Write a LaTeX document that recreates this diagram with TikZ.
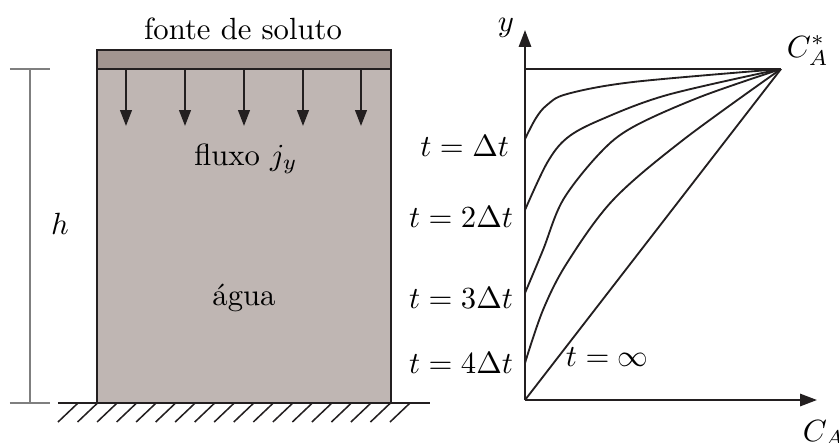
\documentclass[tikz,border=0pt]{standalone}
\usetikzlibrary{arrows.meta}
\definecolor{stripcol}{HTML}{A29590}
\definecolor{watercol}{HTML}{BFB6B3}
\definecolor{edgecol}{HTML}{231F20}
\definecolor{dimcol}{HTML}{7F7F7F}
\begin{document}
\begin{tikzpicture}[x=0.326pt,y=-0.326pt,line width=0.65pt,
  boxline/.style={draw=edgecol,line width=0.7pt},
  fluxarrow/.style={draw=edgecol,-{Triangle[length=5.2pt,width=3.8pt]}},
  axisarrow/.style={draw=edgecol,-{Triangle[length=5.5pt,width=4pt]}},
  curve/.style={draw=edgecol,line width=0.6pt},
  dimline/.style={draw=dimcol,line width=0.5pt},
  lbl/.style={inner sep=0pt}]
\useasboundingbox (0,0) rectangle (839,442);
% container
\fill[watercol] (97,69) rectangle (391,403);
\fill[stripcol] (97,50) rectangle (391,69);
\draw[boxline] (97,50) rectangle (391,403);
\draw[boxline] (97,69) -- (391,69);
% ground
\coordinate (gl) at (58,403);
\coordinate (gr) at (430,403);
\draw[boxline] (gl) -- (gr);
\foreach \i in {0,...,17} \draw[edgecol,line width=0.5pt] ({78+19.53*\i},403) -- ({58+19.53*\i},422);
% dimension h
\coordinate (ht1) at (10,69); \coordinate (ht2) at (50,69);
\coordinate (hb1) at (10,403); \coordinate (hb2) at (50,403);
\coordinate (hm1) at (30,69); \coordinate (hm2) at (30,403);
\draw[dimline] (ht1) -- (ht2);
\draw[dimline] (hb1) -- (hb2);
\draw[dimline] (hm1) -- (hm2);
\node[lbl,anchor=base] (h) at (60,234) {$h$};
% flux arrows
\foreach \x [count=\k] in {126,185,244,303,361} {
  \coordinate (fa\k) at (\x,69);
  \coordinate (fb\k) at (\x,126);
  \draw[fluxarrow] (fa\k) -- (fb\k);
}
\node[lbl] (fonte) at (243,29) {fonte de soluto};
\node[lbl,anchor=base] (fluxo) at (246,165) {fluxo $j_y$};
\node[lbl,anchor=base] (agua) at (244,305) {água};
% plot
\coordinate (O) at (525,400);
\coordinate (P) at (781,69);
\coordinate (T) at (525,69);
\coordinate (ytip) at (525,30);
\coordinate (xtip) at (817,400);
\draw[axisarrow] (O) -- (ytip);
\draw[axisarrow] (O) -- (xtip);
\draw[curve] (T) -- (P);
\draw[curve] (O) -- (P);
\draw[curve] plot[smooth,tension=0.55] coordinates {(525,139) (536,118) (547,105) (567,94) (633,82) (781,69)};
\draw[curve] plot[smooth,tension=0.55] coordinates {(525,210) (547,163) (567,138) (600,120) (667,95) (781,69)};
\draw[curve] plot[smooth,tension=0.55] coordinates {(525,293) (543,250) (563,200) (600,153) (633,127) (700,97) (781,69)};
\draw[curve] plot[smooth,tension=0.55] coordinates {(525,363) (543,310) (567,263) (613,200) (683,140) (781,69)};
\node[lbl,anchor=east] (l1) at (510,146) {$t=\Delta t$};
\node[lbl,anchor=east] (l2) at (514,217) {$t=2\Delta t$};
\node[lbl,anchor=east] (l3) at (514,298) {$t=3\Delta t$};
\node[lbl,anchor=east] (l4) at (514,363) {$t=4\Delta t$};
\node[lbl,anchor=west] (linf) at (565,357) {$t=\infty$};
\node[lbl,anchor=base] (ylab) at (506,31) {$y$};
\node[lbl,anchor=base west] (cstar) at (786,57) {$C_A^*$};
\node[lbl,anchor=base west] (ca) at (802,441) {$C_A$};
\end{tikzpicture}
\end{document}
